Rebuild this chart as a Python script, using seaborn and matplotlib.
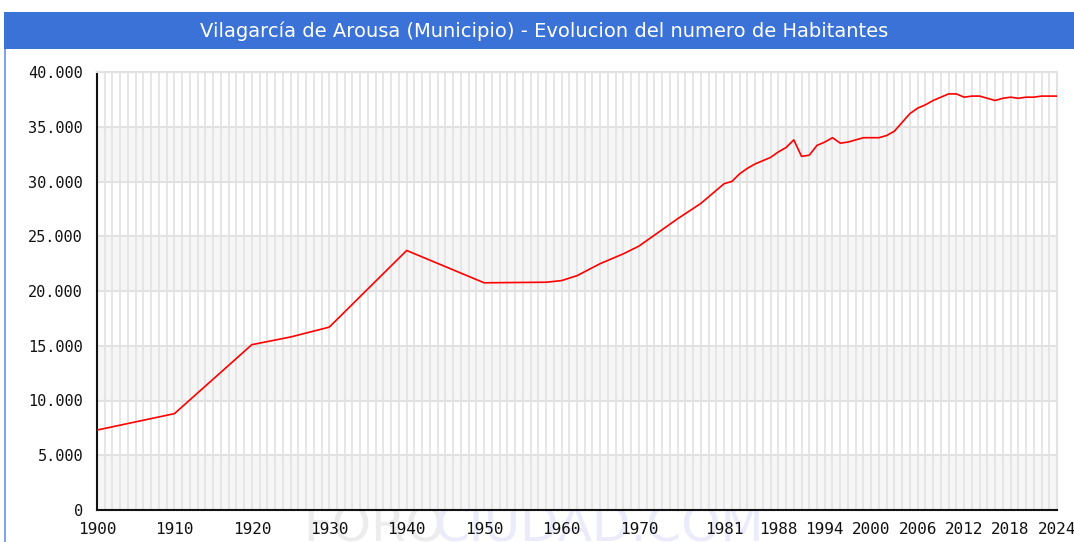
import matplotlib
matplotlib.use("Agg")
import matplotlib.pyplot as plt
from matplotlib.patches import Rectangle
from matplotlib.ticker import FuncFormatter, MultipleLocator
import seaborn as sns

# population
years = [1900, 1910, 1920, 1925, 1930, 1940, 1950, 1958, 1960, 1962, 1965, 1968,
         1970, 1972, 1975, 1978, 1980, 1981, 1982, 1983, 1984, 1985, 1986, 1987,
         1988, 1989, 1990, 1991, 1992, 1993, 1994, 1995, 1996, 1997, 1998, 1999,
         2000, 2001, 2002, 2003, 2004, 2005, 2006, 2007, 2008, 2009, 2010, 2011,
         2012, 2013, 2014, 2015, 2016, 2017, 2018, 2019, 2020, 2021, 2022, 2023, 2024]
habitantes = [7300, 8800, 15100, 15800, 16700, 23700, 20750, 20800, 20950, 21400, 22500, 23400,
              24100, 25100, 26600, 28000, 29200, 29800, 30000, 30700, 31200, 31600, 31900, 32200,
              32700, 33100, 33800, 32300, 32400, 33300, 33600, 34000, 33500, 33600, 33800, 34000,
              34000, 34000, 34200, 34600, 35400, 36200, 36700, 37000, 37400, 37700, 38000, 38000,
              37700, 37800, 37800, 37600, 37400, 37600, 37700, 37600, 37700, 37700, 37800, 37800, 37800]

xticks = [1900, 1910, 1920, 1930, 1940, 1950, 1960, 1970, 1981, 1988, 1994, 2000, 2006, 2012, 2018, 2024]
title = "Vilagarcía de Arousa (Municipio) - Evolucion del numero de Habitantes"

sns.set_style("white")
plt.rcParams['font.family'] = ['DejaVu Sans']

W, H = 1074, 542
fig = plt.figure(figsize=(W / 100, H / 100), dpi=100)

# title bar and left border
fig.patches.append(Rectangle((4 / W, 1 - 49 / H), 1, 37 / H, transform=fig.transFigure,
                             facecolor='#3a72d8', edgecolor='none', zorder=0))
fig.patches.append(Rectangle((4 / W, 0), 2 / W, 1 - 49 / H, transform=fig.transFigure,
                             facecolor='#7ca3ec', edgecolor='none', zorder=0))
fig.text(544 / W, 1 - 31 / H, title, color='white', fontsize=14, ha='center', va='center')

# watermark
fig.text(303 / W, 1 / H, "FORO", color='#ececec', fontsize=36, va='baseline', zorder=-1)
fig.text(434 / W, 1 / H, "CIUDAD.COM", color='#ebebfb', fontsize=36, va='baseline', zorder=-1)

ax = fig.add_axes([97 / W, 1 - 510 / H, (1057 - 97) / W, (510 - 72) / H])

for lo in range(0, 40000, 10000):
    ax.axhspan(lo, lo + 5000, color='#f6f6f6', zorder=0, lw=0)

sns.lineplot(x=years, y=habitantes, ax=ax, color='#ff0000', linewidth=1.2, zorder=3)

ax.set_xlim(1900, 2024)
ax.set_ylim(0, 40000)
ax.set_xticks(xticks)
ax.set_xticks(range(1900, 2025), minor=True)
ax.yaxis.set_major_locator(MultipleLocator(5000))
ax.yaxis.set_minor_locator(MultipleLocator(1000))
ax.yaxis.set_major_formatter(FuncFormatter(lambda v, p: f"{int(v):,}".replace(",", ".")))

ax.set_axisbelow(True)
ax.grid(which='major', axis='y', color='#e2e2e2', linewidth=1.5)
ax.grid(which='both', axis='x', color='#e2e2e2', linewidth=1.2)

ax.tick_params(axis='both', which='both', direction='in', colors='#111111')
ax.tick_params(axis='y', which='major', length=7, width=1.3, pad=10)
ax.tick_params(axis='y', which='minor', length=6, width=1.3)
ax.tick_params(axis='x', which='both', length=6, width=1.1, pad=9)
for lab in ax.get_yticklabels():
    lab.set_fontfamily('DejaVu Sans Mono')
    lab.set_fontsize(11)
for lab in ax.get_xticklabels():
    lab.set_fontfamily('DejaVu Sans Mono')
    lab.set_fontsize(11.5)

for s in ['left', 'bottom']:
    ax.spines[s].set_color('#111111')
    ax.spines[s].set_linewidth(1.5)
for s in ['top', 'right']:
    ax.spines[s].set_color('#e2e2e2')
    ax.spines[s].set_linewidth(1.5)

ax.set_xlabel('')
ax.set_ylabel('')

fig.savefig('out.png', dpi=100)
